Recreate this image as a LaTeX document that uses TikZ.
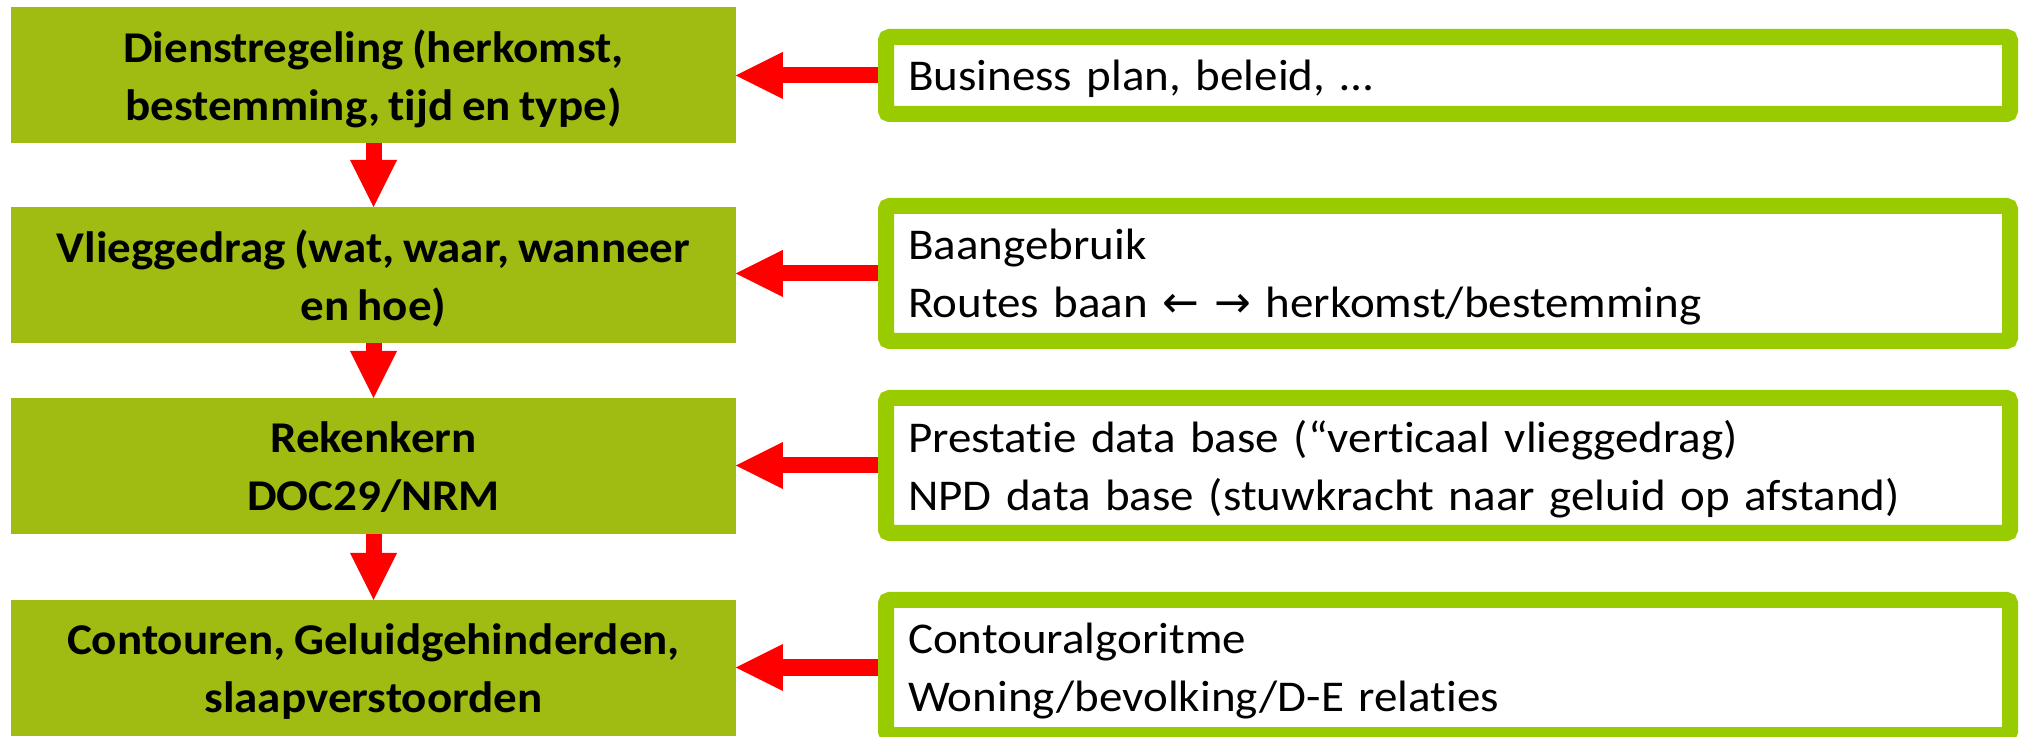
\documentclass[tikz,border=0pt]{standalone}
\usepackage{fontspec}
\setmainfont{Carlito}[FakeStretch=1.07, WordSpace=0.8, Ligatures=NoCommon]
\newfontfamily\arrowfont{DejaVu Sans}
\usepackage{xcolor}
\usetikzlibrary{arrows.meta, positioning}
\definecolor{olivefill}{RGB}{160,188,18}
\definecolor{limeborder}{RGB}{153,204,0}
\definecolor{flowred}{RGB}{255,0,0}

\begin{document}
\begin{tikzpicture}[
  every node/.style={font=\fontsize{12.5}{16.4}\selectfont},
  stage/.style={fill=olivefill, minimum width=7.245cm, minimum height=1.36cm, inner sep=0pt, outer sep=0pt,
    align=center, text depth=0pt, font=\fontsize{12.5}{16.4}\selectfont\bfseries},
  source/.style={draw=limeborder, line width=0.16cm, rounded corners=1pt, fill=white, text width=10.8cm,
    inner xsep=0.22cm, inner ysep=0pt, align=left, text depth=#1},
  flow/.style={flowred, line width=0.16cm, -{Triangle[length=0.47cm, width=0.47cm, line width=0pt]}}
]
\useasboundingbox (0,0) rectangle (20.21,-7.37);
\def\lx{3.735} \def\rx{14.48}
\node[stage] (dienst) at (\lx,-0.75) {Dienstregeling (herkomst,\\ bestemming, tijd en type)};
\node[stage] (vlieg) at (\lx,-2.75) {Vlieggedrag (wat, waar, wanneer\\ en hoe)};
\node[stage] (reken) at (\lx,-4.66) {Rekenkern\\ DOC29/NRM};
\node[stage] (contour) at (\lx,-6.68) {Contouren, Geluidgehinderden,\\ slaapverstoorden};
\node[source=0pt, minimum height=0.77cm] (business) at (\rx,-0.755) {Business plan, beleid, …};
\node[source=16.4pt, minimum height=1.35cm] (baan) at (\rx,-2.735)
  {Baangebruik\\ Routes baan {\arrowfont ←} {\arrowfont →} herkomst/bestemming};
\node[source=16.4pt, minimum height=1.35cm] (prestatie) at (\rx,-4.655)
  {Prestatie data base (“verticaal vlieggedrag)\\ NPD data base (stuwkracht naar geluid op afstand)};
\node[source=16.4pt, minimum height=1.35cm] (contalg) at (\rx,-6.675)
  {Contouralgoritme\\ Woning/bevolking/D-E relaties};
\foreach \a/\b in {dienst/vlieg, vlieg/reken, reken/contour}{
  \draw[flow] (\a.south) -- (\b.north);
}
\foreach \a/\b in {business/dienst, baan/vlieg, prestatie/reken, contalg/contour}{
  \draw[flow] (\a.west) -- (\a.west -| \b.east);
}
\end{tikzpicture}
\end{document}
